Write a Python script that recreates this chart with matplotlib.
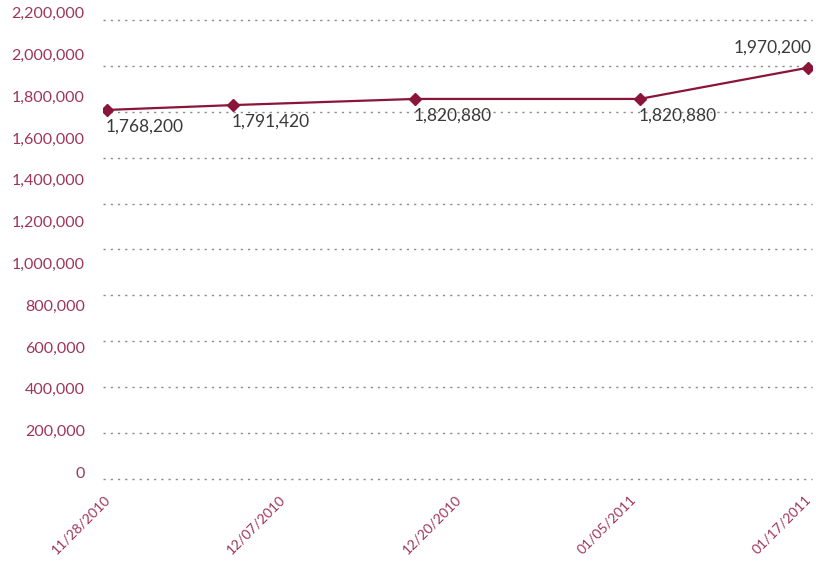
import numpy as np
import matplotlib
matplotlib.use('Agg')
import matplotlib.pyplot as plt
from matplotlib.ticker import MultipleLocator, FuncFormatter
from matplotlib.transforms import ScaledTranslation

# data
dates = ['11/28/2010', '12/07/2010', '12/20/2010', '01/05/2011', '01/17/2011']
day_offset = [0, 9, 22, 38, 50]  # days since 11/28/2010
values = [1768200, 1791420, 1820880, 1820880, 1970200]
point_labels = ['1,768,200', '1,791,420', '1,820,880', '1,820,880', '1,970,200']

line_color = '#8a1538'
tick_color = '#9e3558'
text_color = '#3a3a3a'

plt.rcParams['font.family'] = ['Lato', 'DejaVu Sans']

fig = plt.figure(figsize=(8.16, 5.65), dpi=100)
ax = fig.add_axes([0.126, 0.152, 0.869, 0.813])

ax.plot(day_offset, values, color=line_color, linewidth=1.6,
        marker='D', markersize=6, zorder=3)

# value labels: below-right, except the last one which sits above-left
for i, (x, v, lab) in enumerate(zip(day_offset, values, point_labels)):
    if i == len(values) - 1:
        ax.annotate(lab, (x, v), xytext=(3, 9), textcoords='offset points',
                    ha='right', va='bottom', fontsize=12.5, color=text_color)
    else:
        ax.annotate(lab, (x, v), xytext=(-1, -6), textcoords='offset points',
                    ha='left', va='top', fontsize=12.5, color=text_color)

ax.set_ylim(0, 2200000)
ax.set_xlim(-0.3, 50.3)

# labels every 200k, dotted grid lines every 220k (as drawn in the original)
ax.yaxis.set_major_locator(MultipleLocator(200000))
ax.yaxis.set_minor_locator(MultipleLocator(220000))
ax.yaxis.remove_overlapping_locs = False
ax.yaxis.set_major_formatter(FuncFormatter(lambda v, p: f'{int(v):,}'))
ax.grid(False)
ax.yaxis.grid(True, which='minor', color='#8c8c8c', linestyle=(0, (1.6, 3.6)),
              linewidth=1.0)
for t in ax.yaxis.get_minor_ticks():
    t.gridline.set_clip_on(False)

ax.set_xticks(np.linspace(day_offset[0], day_offset[-1], len(dates)))
ax.set_xticklabels(dates, rotation=45, ha='right', va='center',
                   rotation_mode='anchor', fontsize=10, color=tick_color)

ax.tick_params(axis='y', which='both', length=0, pad=13, labelsize=11.5,
               labelcolor=tick_color)
ax.tick_params(axis='x', length=0, pad=9)

for lab in ax.get_yticklabels():
    lab.set_transform(lab.get_transform() + ScaledTranslation(0, 5 / 72, fig.dpi_scale_trans))
for lab in ax.get_xticklabels():
    lab.set_transform(lab.get_transform() + ScaledTranslation(1 / 72, -4 / 72, fig.dpi_scale_trans))

for s in ax.spines.values():
    s.set_visible(False)

fig.savefig('out.png', dpi=100, facecolor='white')
